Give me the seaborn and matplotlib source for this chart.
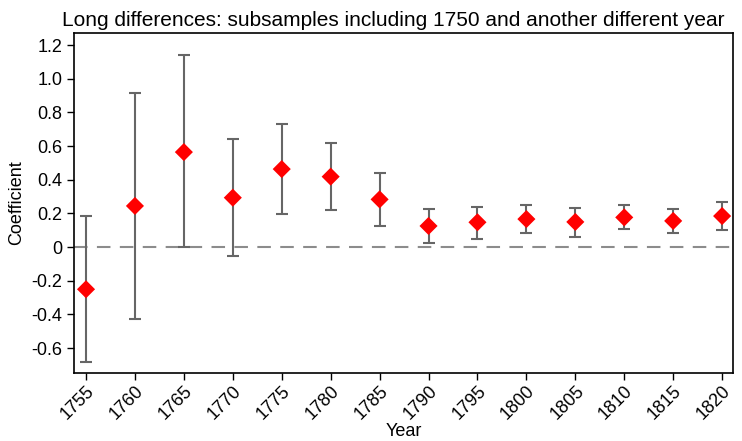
import numpy as np
import pandas as pd
import matplotlib
matplotlib.use("Agg")
import matplotlib.pyplot as plt
import seaborn as sns

years = [1755, 1760, 1765, 1770, 1775, 1780, 1785, 1790, 1795, 1800, 1805, 1810, 1815, 1820]
coef = [-0.251, 0.244, 0.564, 0.293, 0.463, 0.418, 0.283, 0.125, 0.147, 0.166, 0.149, 0.176, 0.155, 0.184]
upper = [0.186, 0.917, 1.141, 0.640, 0.731, 0.618, 0.442, 0.226, 0.240, 0.252, 0.230, 0.250, 0.228, 0.265]
lower = [-0.683, -0.426, 0.000, -0.051, 0.194, 0.220, 0.127, 0.024, 0.048, 0.081, 0.059, 0.105, 0.081, 0.101]
yticks = [-0.6, -0.4, -0.2, 0, 0.2, 0.4, 0.6, 0.8, 1.0, 1.2]

df = pd.DataFrame({"Year": years, "Coefficient": coef, "lo": lower, "hi": upper})

sns.set_style("ticks")
plt.rcParams['font.family'] = ['Liberation Sans', 'DejaVu Sans']
plt.rcParams['text.color'] = 'black'
plt.rcParams['axes.labelcolor'] = 'black'
plt.rcParams['xtick.color'] = 'black'
plt.rcParams['ytick.color'] = 'black'

fig = plt.figure(figsize=(7.42, 4.41), dpi=100)
ax = fig.add_axes([0.0997, 0.154, 0.888, 0.771])

# zero reference line
ax.axhline(0, color="#8c8c8c", linestyle=(0, (6.5, 4.5)), linewidth=1.5, zorder=1)

# confidence intervals
ax.errorbar(df["Year"], df["Coefficient"],
            yerr=[df["Coefficient"] - df["lo"], df["hi"] - df["Coefficient"]],
            fmt="none", ecolor="#666666", elinewidth=1.5, capsize=4, capthick=1.5, zorder=2)

sns.scatterplot(data=df, x="Year", y="Coefficient", marker="D", color="red",
                s=85, edgecolor="none", ax=ax, zorder=3)

ax.set_xlim(1753.77, 1821.1)
ax.set_ylim(-0.749, 1.271)
ax.set_xticks(years)
ax.set_xticklabels([str(y) for y in years], rotation=45, ha="right", rotation_mode="anchor")
ax.set_yticks(yticks)
ax.set_yticklabels(["0" if v == 0 else f"{v:.1f}" for v in yticks])
ax.tick_params(axis="both", labelsize=13, length=5, width=1)
ax.tick_params(axis="x", pad=2)

for sp in ax.spines.values():
    sp.set_visible(True)
    sp.set_color("black")
    sp.set_linewidth(1.2)

ax.set_xlabel("Year", fontsize=13, labelpad=0)
ax.set_ylabel("Coefficient", fontsize=13, labelpad=4)
ax.set_title("Long differences: subsamples including 1750 and another different year",
             fontsize=15, pad=5, x=0.485)

fig.savefig("out.png", dpi=100)
